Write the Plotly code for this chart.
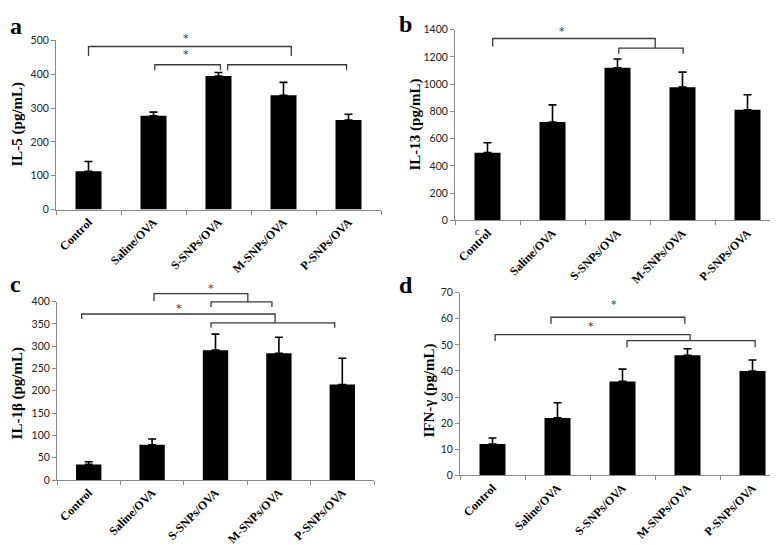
import plotly.graph_objects as go

W, H = 778, 545

categories = ["Control", "Saline/OVA", "S-SNPs/OVA", "M-SNPs/OVA", "P-SNPs/OVA"]

# Panel a: IL-5
il5_mean = [113, 277, 395, 338, 265]
il5_err = [29, 11, 10, 38, 17]
# Panel b: IL-13
il13_mean = [497, 722, 1120, 978, 812]
il13_err = [73, 126, 65, 110, 110]
# Panel c: IL-1beta
il1b_mean = [35, 79, 291, 284, 214]
il1b_err = [6, 13, 36, 36, 59]
# Panel d: IFN-gamma
ifng_mean = [12, 22, 36, 46, 40]
ifng_err = [2.3, 5.8, 4.7, 2.5, 4.2]

# significance brackets: (x_left, x_right, y_level, y_left_end, y_right_end) in category index / data units
br_a = [(0.0, 3.12, 482, 454, 454), (1.02, 2.03, 428, 412, 412), (2.14, 3.97, 428, 412, 412)]
star_a = [(1.5, 506), (1.5, 457)]
br_b = [(0.08, 2.58, 1335, 1276, 1264), (2.02, 3.01, 1264, 1223, 1223)]
star_b = [(1.15, 1383)]
br_c = [(1.03, 2.51, 417.5, 401, 399), (1.93, 2.89, 399, 388, 388),
        (-0.11, 2.94, 372, 361, 352), (1.93, 3.88, 352, 341, 341)]
star_c = [(1.93, 430), (1.42, 385)]
br_d = [(0.9, 2.96, 60.6, 58.1, 58.1), (0.04, 3.04, 53.9, 51.5, 51.6), (2.07, 4.04, 51.6, 49.1, 49.1)]
star_d = [(1.87, 65.6), (1.52, 57.2)]

panels = [
    dict(mean=il5_mean, err=il5_err, rng=[0, 500], dtick=100, title="IL-5 (pg/mL)", letter="a",
         xpx=(48, 373), ypx=(200, 27), br=br_a, stars=star_a, lpos=(8, 12), tpos=(10, 113)),
    dict(mean=il13_mean, err=il13_err, rng=[0, 1400], dtick=200, title="IL-13 (pg/mL)", letter="b",
         xpx=(447, 772), ypx=(211, 16), br=br_b, stars=star_b, lpos=(398, 10), tpos=(408, 113)),
    dict(mean=il1b_mean, err=il1b_err, rng=[0, 400], dtick=50, title="IL-1β (pg/mL)", letter="c",
         xpx=(49, 366), ypx=(476.5, 294), br=br_c, stars=star_c, lpos=(7, 276), tpos=(9, 388)),
    dict(mean=ifng_mean, err=ifng_err, rng=[0, 70], dtick=10, title="IFN-γ (pg/mL)", letter="d",
         xpx=(452, 777), ypx=(471.7, 285), br=br_d, stars=star_d, lpos=(398, 277), tpos=(422, 385)),
]

fig = go.Figure()
shapes = []
annotations = []
serif = "Liberation Serif"
axis_grey = "#8a8a8a"
line_dark = "#3a3a3a"

for i, p in enumerate(panels):
    n = "" if i == 0 else str(i + 1)
    xa, ya = "x" + n, "y" + n
    fig.add_trace(go.Bar(
        x=categories, y=p["mean"], xaxis=xa, yaxis=ya, width=0.4,
        marker=dict(color="black", line=dict(width=0)),
        error_y=dict(type="data", symmetric=False, array=p["err"], arrayminus=[0] * 5,
                     color="black", thickness=1.6, width=4),
        showlegend=False,
    ))
    xd = [p["xpx"][0] / W, p["xpx"][1] / W]
    yd = [1 - p["ypx"][0] / H, 1 - p["ypx"][1] / H]
    r0, r1 = p["rng"]

    def yp(v, yd=yd, r0=r0, r1=r1):
        # map a data value of this panel's y axis to paper coordinates (linear axis)
        return yd[0] + (v - r0) / (r1 - r0) * (yd[1] - yd[0])

    fig.layout["xaxis" + n] = dict(
        domain=xd, anchor=ya, type="category", range=[-0.5, 4.5],
        showline=True, linecolor=axis_grey, linewidth=1, ticks="outside", tickson="boundaries",
        ticklen=4, tickcolor=axis_grey, tickangle=-45, showgrid=False, zeroline=False,
        tickfont=dict(family=serif, size=12, color="black", weight="bold"),
    )
    fig.layout["yaxis" + n] = dict(
        domain=yd, anchor=xa, range=p["rng"], dtick=p["dtick"],
        showline=True, linecolor=axis_grey, linewidth=1, ticks="outside", ticklen=4,
        tickcolor=axis_grey, showgrid=False, zeroline=False,
        tickfont=dict(family="Lato", size=10.5, color="#222"),
    )
    for (x0, x1, yl, yle, yre) in p["br"]:
        shapes.append(dict(
            type="path", xref=xa, yref="paper",
            path=f"M {x0},{yp(yle)} L {x0},{yp(yl)} L {x1},{yp(yl)} L {x1},{yp(yre)}",
            line=dict(color=line_dark, width=1.3),
        ))
    for (sx, sy) in p["stars"]:
        annotations.append(dict(x=sx, y=yp(sy), xref=xa, yref="paper", text="*", showarrow=False,
                                font=dict(family="DejaVu Sans", size=11, color="#333"),
                                xanchor="center", yanchor="middle"))
    annotations.append(dict(x=p["lpos"][0] / W, y=1 - p["lpos"][1] / H, xref="paper", yref="paper",
                            text=f"<b>{p['letter']}</b>", showarrow=False,
                            font=dict(family=serif, size=24, color="black"),
                            xanchor="center", yanchor="middle"))
    annotations.append(dict(x=p["tpos"][0] / W, y=1 - p["tpos"][1] / H, xref="paper", yref="paper",
                            text=f"<b>{p['title']}</b>", showarrow=False, textangle=-90,
                            font=dict(family=serif, size=15, color="black"),
                            xanchor="center", yanchor="middle"))

# stray label under panel b origin
annotations.append(dict(x=469 / W, y=1 - 222 / H, xref="paper", yref="paper", text="c",
                        showarrow=False, font=dict(family=serif, size=10, color="black"),
                        xanchor="center", yanchor="middle"))

fig.update_layout(
    width=W, height=H, margin=dict(l=0, r=0, t=0, b=0),
    paper_bgcolor="white", plot_bgcolor="white",
    shapes=shapes, annotations=annotations, bargap=0.6,
)
fig.write_html("out.html")
